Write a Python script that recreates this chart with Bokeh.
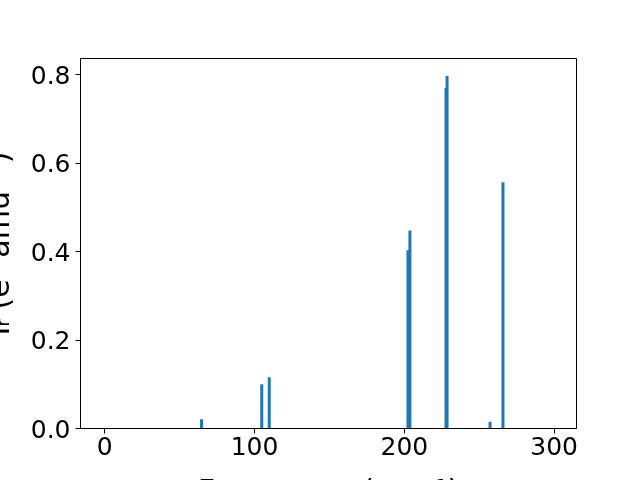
from bokeh.plotting import figure
from bokeh.models import Range1d, FixedTicker, ColumnDataSource
from bokeh.embed import file_html
from bokeh.resources import INLINE

# ---- data ----
freqs = [64.6, 104.8, 109.8, 202.4, 203.7, 227.8, 228.5, 257.2, 265.8]
intensities = [0.021, 0.100, 0.116, 0.403, 0.448, 0.770, 0.797, 0.015, 0.557]
x_ticks = [0, 100, 200, 300]
y_ticks = [0.0, 0.2, 0.4, 0.6, 0.8]
x_label = "Frequency (cm⁻¹)"
y_label = "Iᵣ (e² amu⁻¹)"

X_LO, X_HI = -16.2, 314.9
Y_LO, Y_HI = 0.0, max(intensities) * 1.05

# The reference's axis titles run off the left and bottom edges of the
# 640x480 picture; the canvas is made larger and pinned so that the same
# parts fall outside the window.
SHIFT_L = 30
FRAME_W, FRAME_H = 496, 370
BL, BR, BT, BB = 80 + SHIFT_L, 64, 58, 110
W = BL + FRAME_W + BR
H = BT + FRAME_H + BB

p = figure(width=W, height=H, output_backend="svg", toolbar_location=None,
           x_range=Range1d(X_LO, X_HI), y_range=Range1d(Y_LO, Y_HI),
           min_border_left=BL, min_border_right=BR,
           min_border_top=BT, min_border_bottom=BB,
           styles={"position": "fixed", "left": f"-{SHIFT_L}px", "top": "0px"})
p.background_fill_color = "white"
p.border_fill_color = "white"
p.outline_line_color = "black"
p.outline_line_width = 1
p.grid.visible = False

src = ColumnDataSource(dict(x=freqs, top=intensities))
p.vbar(x="x", top="top", bottom=0, width=2.0, source=src,
       fill_color="#1f77b4", line_color=None)

for ax in (p.xaxis, p.yaxis):
    ax.axis_line_color = "black"
    ax.axis_line_width = 1
    ax.major_tick_line_color = "black"
    ax.major_tick_line_width = 1
    ax.major_tick_out = 5
    ax.major_tick_in = 0
    ax.minor_tick_line_color = None
    ax.major_label_text_font = "DejaVu Sans"
    ax.major_label_text_font_size = "25px"
    ax.major_label_text_color = "black"
    ax.axis_label_text_font = "DejaVu Sans"
    ax.axis_label_text_font_size = "30px"
    ax.axis_label_text_font_style = "normal"
    ax.axis_label_text_color = "black"

p.xaxis.ticker = FixedTicker(ticks=x_ticks)
p.yaxis.ticker = FixedTicker(ticks=y_ticks)
p.yaxis.major_label_overrides = {t: f"{t:.1f}" for t in y_ticks}
p.xaxis.major_label_standoff = 3
p.yaxis.major_label_standoff = 5
p.xaxis.axis_label = x_label
p.yaxis.axis_label = y_label
p.xaxis.axis_label_standoff = 15
p.yaxis.axis_label_standoff = 12

open("out.html", "w").write(file_html(p, INLINE))
